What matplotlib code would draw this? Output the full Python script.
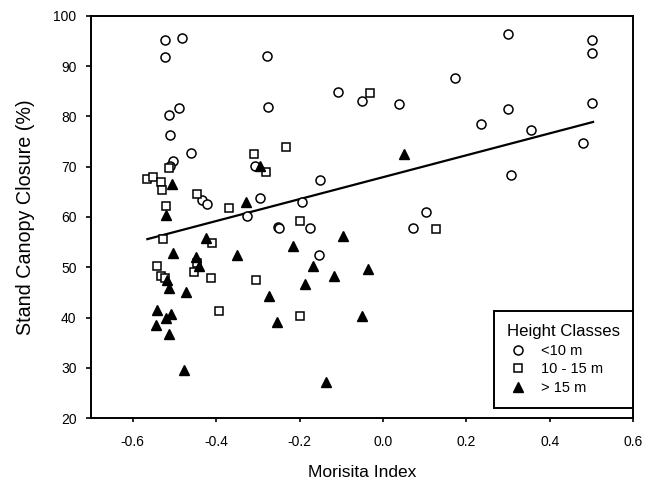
import numpy as np
import matplotlib.pyplot as plt

plt.rcParams['font.family'] = ['Liberation Sans', 'DejaVu Sans']

# Height class < 10 m
x_low = [-0.523, -0.483, -0.523, -0.277, -0.489, -0.512, -0.275, -0.511, -0.461,
         -0.504, -0.511, -0.306, -0.435, -0.422, -0.326, -0.294, -0.252, -0.152,
         -0.194, -0.250, -0.174, -0.153, 0.103, 0.071, -0.107, -0.051, 0.038,
         0.172, 0.300, 0.502, 0.502, 0.300, 0.502, 0.236, 0.355, 0.481, 0.308]
y_low = [95.2, 95.6, 91.8, 92.0, 81.6, 80.3, 81.8, 76.3, 72.7,
         71.1, 70.2, 70.2, 63.3, 62.6, 60.1, 63.8, 58.1, 67.3,
         63.0, 57.9, 57.9, 52.5, 61.0, 57.9, 84.9, 83.0, 82.4,
         87.7, 96.4, 95.2, 92.6, 81.5, 82.6, 78.5, 77.3, 74.8, 68.3]

# Height class 10 - 15 m
x_mid = [-0.565, -0.552, -0.533, -0.531, -0.521, -0.528, -0.541, -0.532, -0.522,
         -0.512, -0.447, -0.445, -0.453, -0.413, -0.409, -0.369, -0.304, -0.393,
         -0.309, -0.280, -0.232, -0.198, -0.198, -0.031, 0.127]
y_mid = [67.6, 67.9, 66.9, 65.3, 62.2, 55.7, 50.2, 48.2, 47.8,
         69.8, 64.5, 50.8, 49.0, 47.9, 54.8, 61.8, 47.4, 41.4,
         72.6, 68.9, 74.0, 59.2, 40.4, 84.6, 57.6]

# Height class > 15 m
x_high = [-0.505, -0.521, -0.503, -0.425, -0.449, -0.441, -0.513, -0.517, -0.473,
          -0.349, -0.328, -0.296, -0.274, -0.541, -0.544, -0.509, -0.521, -0.513,
          -0.477, -0.096, -0.216, -0.168, -0.118, -0.035, -0.186, -0.255, -0.051,
          -0.137, 0.051]
y_high = [66.6, 60.3, 52.9, 55.8, 52.1, 50.3, 45.9, 47.5, 45.1,
          52.5, 62.9, 70.2, 44.3, 41.5, 38.6, 40.8, 39.9, 36.8,
          29.5, 56.3, 54.3, 50.2, 48.2, 49.7, 46.7, 39.2, 40.4,
          27.1, 72.6]

# regression line endpoints
fit_x = [-0.565, 0.504]
fit_y = [55.6, 78.9]

fig = plt.figure(figsize=(6.46, 4.96), dpi=100)
ax = fig.add_axes([0.141, 0.157, 0.839, 0.811])

ax.plot(fit_x, fit_y, color='black', lw=1.6, zorder=2)
ax.plot(x_low, y_low, 'o', mfc='white', mec='black', ms=6.5, mew=1.1,
        ls='none', label='<10 m', zorder=3)
ax.plot(x_mid, y_mid, 's', mfc='white', mec='black', ms=5.8, mew=1.1,
        ls='none', label='10 - 15 m', zorder=3)
ax.plot(x_high, y_high, '^', mfc='black', mec='black', ms=6.5,
        ls='none', label='> 15 m', zorder=4)

ax.set_xlim(-0.7, 0.6)
ax.set_ylim(20, 100)
ax.set_xticks(np.arange(-0.6, 0.61, 0.2))
ax.set_xticklabels(['-0.6', '-0.4', '-0.2', '0.0', '0.2', '0.4', '0.6'])
ax.set_yticks(np.arange(20, 101, 10))
ax.tick_params(axis='x', direction='out', length=3, width=1.2,
               labelsize=10, pad=9)
ax.tick_params(axis='y', direction='out', length=3.5, width=1.2,
               labelsize=10, pad=7)
for s in ax.spines.values():
    s.set_linewidth(1.4)

ax.set_xlabel('Morisita Index', fontsize=12.5, labelpad=12)
ax.set_ylabel('Stand Canopy Closure (%)', fontsize=14.2, labelpad=13)

leg = ax.legend(title='Height Classes', loc='lower right',
                bbox_to_anchor=(1.0, 0.025), borderaxespad=0,
                fontsize=10.5, title_fontsize=12.1,
                fancybox=False, edgecolor='black', framealpha=1,
                handlelength=1.5, handletextpad=0.85,
                borderpad=0.9, labelspacing=0.32)
leg.get_frame().set_linewidth(1.4)
leg._legend_box.align = 'left'

fig.savefig('out.png', dpi=100)
